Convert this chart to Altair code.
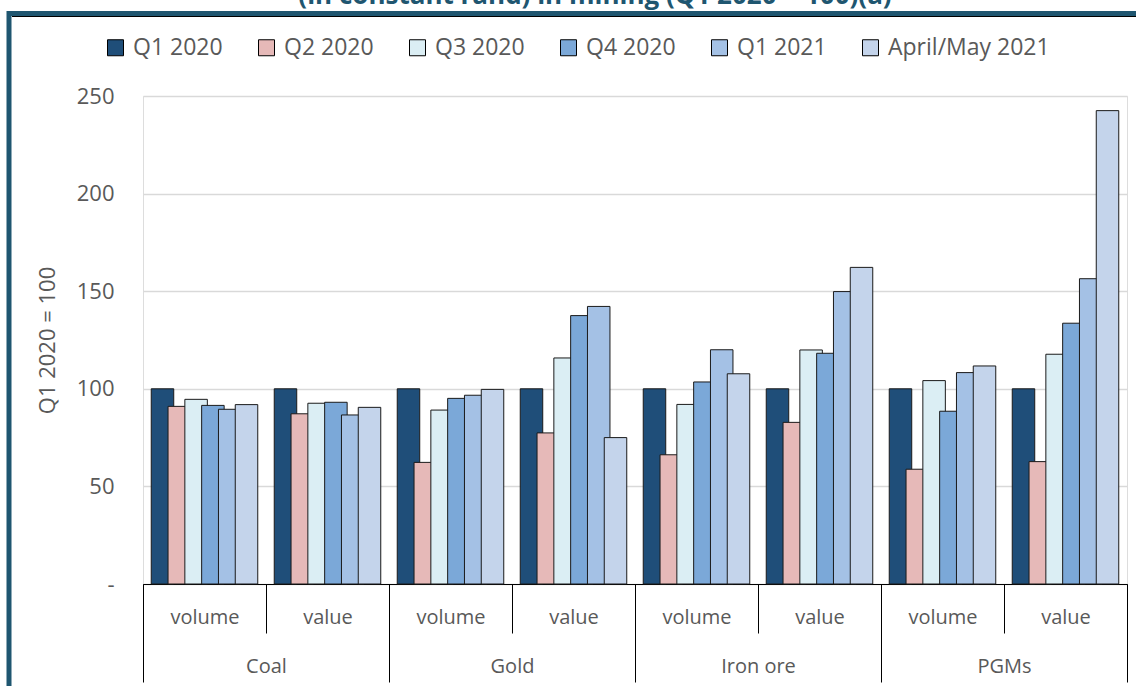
import altair as alt
import pandas as pd

# Categories along the x axis: product, then measure
products = ["Coal", "Gold", "Iron ore", "PGMs"]
measures = ["volume", "value"]
quarters = ["Q1 2020", "Q2 2020", "Q3 2020", "Q4 2020", "Q1 2021", "April/May 2021"]

# Index values (Q1 2020 = 100) for the 8 product/measure pairs, in order:
# Coal vol, Coal val, Gold vol, Gold val, Iron vol, Iron val, PGM vol, PGM val
q1_2020 = [100, 100, 100, 100, 100, 100, 100, 100]
q2_2020 = [91.0, 87.2, 62.3, 77.4, 66.2, 82.8, 58.8, 62.7]
q3_2020 = [94.6, 92.6, 89.1, 115.8, 92.0, 119.9, 104.2, 117.7]
q4_2020 = [91.5, 93.1, 95.1, 137.5, 103.5, 118.2, 88.5, 133.6]
q1_2021 = [89.5, 86.6, 96.7, 142.2, 120.0, 149.8, 108.3, 156.4]
apr_may_2021 = [91.9, 90.5, 99.7, 75.0, 107.7, 162.2, 111.7, 242.5]

colors = ["#1f4e79", "#e6b9b8", "#dbeef4", "#7ba8d8", "#a4c1e5", "#c4d4eb"]

title_text = "(in constant rand) in mining (Q1 2020 = 100)(a)"

series = [q1_2020, q2_2020, q3_2020, q4_2020, q1_2021, apr_may_2021]
keys = [f"{p}|{m}" for p in products for m in measures]

rows = []
for i, key in enumerate(keys):
    for q, vals in zip(quarters, series):
        rows.append({"key": key, "quarter": q, "index": vals[i]})
df = pd.DataFrame(rows)

FONT = "Open Sans"
GREY = "#595959"
TEAL = "#1f5670"
W, H = 984, 488

bars = alt.Chart(df).mark_bar(
    width=22.5, stroke="#1a1a1a", strokeWidth=1
).encode(
    x=alt.X(
        "key:N",
        sort=keys,
        scale=alt.Scale(paddingInner=0, paddingOuter=0),
        axis=alt.Axis(
            title=None,
            orient="bottom",
            labelExpr="split(datum.label, '|')[1]",
            labelAngle=0,
            labelFont=FONT,
            labelFontSize=20,
            labelColor=GREY,
            labelBaseline="middle",
            labelPadding=-16,
            tickBand="extent",
            tickSize=49,
            tickColor="black",
            tickWidth=1,
            domainColor="black",
            domainWidth=1,
        ),
    ),
    xOffset=alt.XOffset(
        "quarter:N", sort=quarters,
        scale=alt.Scale(paddingInner=0, paddingOuter=0.66),
    ),
    y=alt.Y(
        "index:Q",
        scale=alt.Scale(domain=[0, 250], nice=False),
        axis=alt.Axis(
            title="Q1 2020 = 100",
            values=[0, 50, 100, 150, 200, 250],
            labelExpr="datum.value == 0 ? '-\u00a0\u00a0' : datum.label",
            labelFont=FONT,
            labelFontSize=22,
            labelColor=GREY,
            labelPadding=29,
            ticks=False,
            domain=False,
            grid=True,
            gridColor="#d9d9d9",
            gridWidth=1.5,
            titleFont=FONT,
            titleFontSize=22,
            titleFontWeight="normal",
            titleColor=GREY,
            titleX=-96,
            titleY=H / 2,
            titleAlign="center",
            titleBaseline="middle",
        ),
    ),
    color=alt.Color(
        "quarter:N",
        sort=quarters,
        scale=alt.Scale(domain=quarters, range=colors),
        legend=alt.Legend(
            title=None,
            orient="none",
            direction="horizontal",
            legendX=-39,
            legendY=-60,
            symbolType="square",
            symbolSize=256,
            symbolStrokeColor="black",
            symbolStrokeWidth=1,
            labelFont=FONT,
            labelFontSize=23,
            labelColor=GREY,
            labelOffset=6,
            labelLimit=400,
            columnPadding=32,
        ),
    ),
    order=alt.Order("quarter_idx:Q"),
).transform_calculate(
    quarter_idx="indexof(" + str(quarters).replace("'", '"') + ", datum.quarter)"
)

# Second-level category labels (products) under the measure labels
prod_df = pd.DataFrame({"product": products})
prod_axis = alt.Chart(prod_df).mark_point(opacity=0).encode(
    x=alt.X(
        "product:N",
        sort=products,
        scale=alt.Scale(paddingInner=0, paddingOuter=0),
        axis=alt.Axis(
            title=None,
            orient="bottom",
            labelAngle=0,
            labelFont=FONT,
            labelFontSize=20,
            labelColor=GREY,
            labelBaseline="middle",
            labelPadding=-16,
            tickBand="extent",
            tickSize=98,
            tickColor="black",
            tickWidth=1,
            domain=False,
        ),
    ),
)

one_row = alt.Data(values=[{}])

# Outer dark frame around the figure, with a thin dark line under its top edge
frame = alt.Chart(one_row).mark_rect(
    fill=None, stroke=TEAL, strokeWidth=5
).encode(
    x=alt.value(-134), x2=alt.value(1000),
    y=alt.value(-82.5), y2=alt.value(700),
)
frame_line = alt.Chart(one_row).mark_rule(
    stroke="black", strokeWidth=1
).encode(
    x=alt.value(-131), x2=alt.value(1000), y=alt.value(-79.5),
)

# Chart heading, sitting above the frame
heading = alt.Chart(one_row).mark_text(
    text=title_text,
    font=FONT,
    fontSize=26,
    fontWeight="bold",
    color=TEAL,
    align="center",
    baseline="alphabetic",
).encode(
    x=alt.value(452), y=alt.value(-92.5),
)

chart = alt.layer(bars, prod_axis, frame, frame_line, heading).resolve_scale(
    x="independent"
).properties(
    width=W,
    height=H,
    autosize=alt.AutoSizeParams(type="none"),
    padding={"left": 143, "top": 96, "right": 9, "bottom": 102},
).configure_view(
    stroke="black", strokeWidth=1
).configure(
    background="white"
)

chart.save("out.html", embed_options={"renderer": "svg", "actions": False})
